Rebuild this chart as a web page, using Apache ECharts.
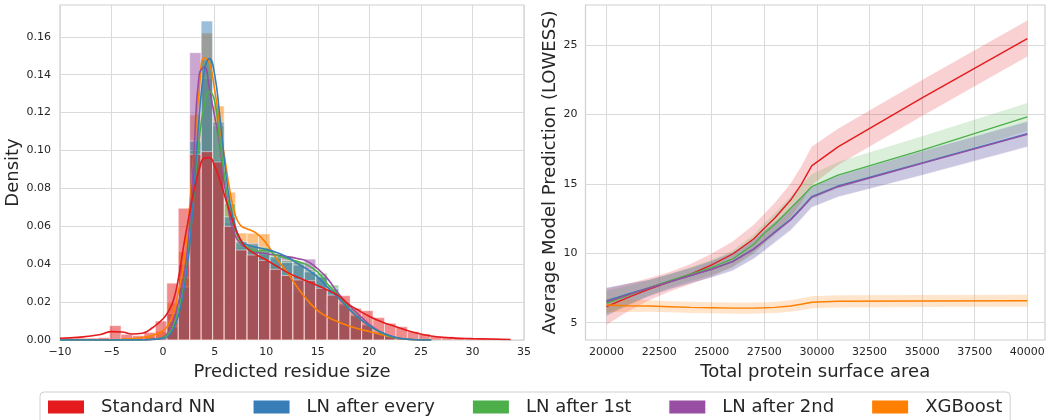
<!DOCTYPE html>
<html>
<head>
<meta charset="utf-8">
<script src="https://cdn.jsdelivr.net/npm/echarts@6/dist/echarts.min.js"></script>
<style>
  html, body { margin: 0; padding: 0; background: #ffffff; }
  #chart { width: 1047px; height: 420px; }
</style>
</head>
<body>
<div id="chart"></div>
<script>
const seriesNames = ['Standard NN', 'LN after every', 'LN after 1st', 'LN after 2nd', 'XGBoost']
const seriesColors = ['#e41a1c', '#377eb8', '#4daf4a', '#984ea3', '#ff7f00']

// left panel: histogram bins (shared by every model)
const binEdges = [-10.75, -9.64, -8.53, -7.42, -6.31, -5.20, -4.08, -2.97, -1.86, -0.75,
  0.36, 1.47, 2.58, 3.69, 4.80, 5.92, 7.03, 8.14, 9.25, 10.36,
  11.47, 12.58, 13.69, 14.80, 15.91, 17.03, 18.14, 19.25, 20.36, 21.47,
  22.58, 23.69, 24.80, 25.91, 27.02, 28.14, 29.25, 30.36, 31.47, 32.58, 33.69]

const histRed = [0.0008, 0.0008, 0.0010, 0.0010, 0.0013, 0.0076, 0.0030, 0.0023, 0.0040, 0.0100,
  0.0300, 0.0695, 0.0980, 0.0994, 0.0940, 0.0600, 0.0475, 0.0449, 0.0420, 0.0373,
  0.0340, 0.0317, 0.0313, 0.0273, 0.0237, 0.0234, 0.0167, 0.0155, 0.0118, 0.0088,
  0.0070, 0.0044, 0.0032, 0.0021, 0.0018, 0.0012, 0.0010, 0.0008, 0.0006, 0.0005]
const histBlue = [0, 0, 0, 0, 0, 0, 0, 0, 0, 0.0008,
  0.0070, 0.0280, 0.1050, 0.1683, 0.1150, 0.0650, 0.0520, 0.0510, 0.0470, 0.0440,
  0.0410, 0.0396, 0.0360, 0.0334, 0.0270, 0.0190, 0.0130, 0.0080, 0.0040, 0.0020,
  0.0010, 0.0005, 0, 0, 0, 0, 0, 0, 0, 0]
const histGreen = [0, 0, 0, 0, 0, 0, 0, 0, 0, 0.0010,
  0.0100, 0.0330, 0.1000, 0.1480, 0.1130, 0.0720, 0.0510, 0.0500, 0.0490, 0.0457,
  0.0420, 0.0410, 0.0370, 0.0352, 0.0290, 0.0194, 0.0130, 0.0080, 0.0040, 0.0020,
  0.0010, 0.0005, 0, 0, 0, 0, 0, 0, 0, 0]
const histPurple = [0, 0, 0, 0, 0, 0, 0, 0, 0, 0.0010,
  0.0140, 0.0400, 0.1516, 0.1380, 0.0950, 0.0620, 0.0490, 0.0470, 0.0450, 0.0430,
  0.0440, 0.0413, 0.0427, 0.0330, 0.0260, 0.0180, 0.0120, 0.0080, 0.0040, 0.0020,
  0.0010, 0.0005, 0, 0, 0, 0, 0, 0, 0, 0]
const histOrange = [0, 0, 0, 0, 0, 0.0005, 0.0010, 0.0010, 0.0020, 0.0045,
  0.0195, 0.0466, 0.1187, 0.1620, 0.1235, 0.0780, 0.0565, 0.0563, 0.0560, 0.0400,
  0.0340, 0.0250, 0.0180, 0.0130, 0.0110, 0.0080, 0.0060, 0.0050, 0.0030, 0.0020,
  0.0010, 0.0005, 0, 0, 0, 0, 0, 0, 0, 0]

// left panel: kde curves
const kdeX = [-10, -8, -6, -5, -4, -3, -2, -1, 0, 0.5, 1, 1.5, 2, 2.5, 3, 3.5, 4, 4.5, 5, 5.5,
  6, 6.5, 7, 7.5, 8, 9, 10, 11, 12, 13, 14, 15, 16, 17, 18, 19, 20, 21, 22, 23, 24, 26, 28, 30, 33.7]
const kdeRed = [0.0009, 0.0015, 0.0030, 0.0044, 0.0042, 0.0032, 0.0036, 0.0066,
  0.0112, 0.0150, 0.0210, 0.0330, 0.0500, 0.0650, 0.0790, 0.0900, 0.0960, 0.0962, 0.0918, 0.0845,
  0.0756, 0.0670, 0.0590, 0.0530, 0.0490,
  0.0452, 0.0422, 0.0390, 0.0358, 0.0332, 0.0310, 0.0287, 0.0262, 0.0234, 0.0188, 0.0155, 0.0125,
  0.0100, 0.0080, 0.0062, 0.0045, 0.0021, 0.0011, 0.0007, 0.0003]
const kdeBlue = [0, 0, 0, 0, 0, 0, 0.0001, 0.0003,
  0.0008, 0.0020, 0.0060, 0.0130, 0.0260, 0.0460, 0.0800, 0.1180, 0.1420, 0.1485, 0.1400, 0.1180,
  0.0920, 0.0720, 0.0600, 0.0530, 0.0505,
  0.0490, 0.0478, 0.0462, 0.0438, 0.0405, 0.0372, 0.0332, 0.0275, 0.0222, 0.0165, 0.0115, 0.0075,
  0.0045, 0.0022, 0.0009, 0.0003, 0, null, null, null]
const kdeGreen = [0, 0, 0, 0, 0, 0, 0, 0.0004,
  0.0012, 0.0030, 0.0075, 0.0160, 0.0280, 0.0480, 0.0780, 0.1060, 0.1240, 0.1310, 0.1260, 0.1050,
  0.0850, 0.0680, 0.0580, 0.0520, 0.0495,
  0.0470, 0.0472, 0.0447, 0.0430, 0.0415, 0.0395, 0.0358, 0.0292, 0.0235, 0.0170, 0.0115, 0.0075,
  0.0042, 0.0020, 0.0008, 0.0003, 0, null, null, null]
const kdePurple = [0, 0, 0, 0, 0, 0, 0, 0.0005,
  0.0015, 0.0040, 0.0100, 0.0200, 0.0320, 0.0560, 0.1000, 0.1400, 0.1440, 0.1320, 0.1180, 0.1030,
  0.0800, 0.0640, 0.0550, 0.0510, 0.0490,
  0.0465, 0.0455, 0.0448, 0.0440, 0.0430, 0.0415, 0.0375, 0.0320, 0.0245, 0.0185, 0.0132, 0.0083,
  0.0045, 0.0022, 0.0008, 0.0003, 0, null, null, null]
const kdeOrange = [0, 0, 0, 0, 0.0003, 0.0008, 0.0013, 0.0025,
  0.0050, 0.0080, 0.0140, 0.0260, 0.0400, 0.0660, 0.1000, 0.1320, 0.1490, 0.1460, 0.1320, 0.1130,
  0.0950, 0.0780, 0.0660, 0.0605, 0.0590,
  0.0565, 0.0510, 0.0430, 0.0360, 0.0280, 0.0210, 0.0155, 0.0120, 0.0095, 0.0075, 0.0058, 0.0045,
  0.0030, 0.0018, 0.0008, 0.0003, 0, null, null, null]

const densityTicks = [0, 0.02, 0.04, 0.06, 0.08, 0.10, 0.12, 0.14, 0.16]

// right panel: lowess fits and their confidence half-widths
const lowessX = [20000, 21000, 22000, 23000, 24000, 25000, 26000, 27000, 27500, 28000,
  28750, 29250, 29750, 31000, 35000, 40000]
const lowessRed = [6.15, 6.80, 7.40, 7.95, 8.50, 9.16, 9.95, 11.05, 11.80, 12.55,
  13.84, 14.95, 16.30, 17.67, 21.20, 25.48]
const lowessBlue = [6.58, 7.05, 7.50, 7.95, 8.40, 8.86, 9.42, 10.32, 10.92, 11.55,
  12.45, 13.25, 14.08, 14.85, 16.52, 18.62]
const lowessGreen = [6.40, 6.95, 7.50, 8.02, 8.50, 8.99, 9.60, 10.65, 11.44, 12.10,
  13.24, 14.00, 14.80, 15.64, 17.44, 19.84]
const lowessPurple = [6.50, 7.00, 7.48, 7.95, 8.40, 8.85, 9.40, 10.30, 10.90, 11.50,
  12.40, 13.20, 14.03, 14.80, 16.48, 18.57]
const lowessOrange = [6.27, 6.22, 6.20, 6.15, 6.10, 6.08, 6.05, 6.05, 6.07, 6.10,
  6.20, 6.33, 6.47, 6.54, 6.56, 6.58]

const ciRed = [1.30, 1.00, 0.80, 0.70, 0.72, 0.82, 0.90, 1.00, 1.05, 1.10, 1.20, 1.30, 1.38, 1.30, 1.30, 1.30]
const ciBlue = [0.95, 0.75, 0.58, 0.52, 0.52, 0.58, 0.63, 0.68, 0.70, 0.72, 0.74, 0.74, 0.72, 0.75, 0.85, 0.90]
const ciGreen = [0.90, 0.70, 0.55, 0.50, 0.50, 0.55, 0.60, 0.70, 0.75, 0.80, 0.85, 0.90, 0.90, 0.95, 1.00, 1.00]
const ciPurple = [1.00, 0.80, 0.60, 0.55, 0.55, 0.60, 0.65, 0.70, 0.72, 0.74, 0.75, 0.75, 0.72, 0.75, 0.85, 0.90]
const ciOrange = [0.50, 0.45, 0.42, 0.40, 0.40, 0.40, 0.40, 0.40, 0.40, 0.40, 0.42, 0.43, 0.44, 0.44, 0.43, 0.43]

const surfaceTicks = [20000, 22500, 25000, 27500, 30000, 32500, 35000, 37500, 40000]
const predictionTicks = [5, 10, 15, 20, 25]

const FONT = 'DejaVu Sans'
const INK = '#262626'
const GRID_LINE = '#dadada'
const LEFT_X_MIN = -10

const chart = echarts.init(document.getElementById('chart'), null, { renderer: 'canvas' })

function histSeries(idx, heights) {
  const color = seriesColors[idx]
  return {
    type: 'custom',
    name: seriesNames[idx],
    xAxisIndex: 0,
    yAxisIndex: 0,
    silent: true,
    itemStyle: { color },
    data: heights.map((h, k) => [binEdges[k], binEdges[k + 1], h]),
    renderItem(params, api) {
      const h = api.value(2)
      if (!h) return null
      const x0 = Math.max(api.value(0), LEFT_X_MIN)
      const p0 = api.coord([x0, h])
      const p1 = api.coord([api.value(1), 0])
      return {
        type: 'rect',
        shape: { x: p0[0], y: p0[1], width: p1[0] - p0[0], height: p1[1] - p0[1] },
        style: { fill: color, stroke: '#ffffff', lineWidth: 1, opacity: 0.5 }
      }
    }
  }
}

function kdeSeries(idx, values) {
  const data = []
  kdeX.forEach((x, i) => {
    if (values[i] !== null) data.push([x, values[i]])
  })
  return {
    type: 'line',
    name: seriesNames[idx],
    xAxisIndex: 0,
    yAxisIndex: 0,
    silent: true,
    symbol: 'none',
    smooth: 0.5,
    data,
    lineStyle: { color: seriesColors[idx], width: 1.6 },
    itemStyle: { color: seriesColors[idx] }
  }
}

function lowessLine(idx, values) {
  return {
    type: 'line',
    name: seriesNames[idx],
    xAxisIndex: 1,
    yAxisIndex: 1,
    silent: true,
    symbol: 'none',
    smooth: false,
    data: lowessX.map((x, i) => [x, values[i]]),
    lineStyle: { color: seriesColors[idx], width: 1.4 },
    itemStyle: { color: seriesColors[idx] }
  }
}

function lowessBand(idx, values, ci) {
  const color = seriesColors[idx]
  return {
    type: 'custom',
    name: seriesNames[idx],
    xAxisIndex: 1,
    yAxisIndex: 1,
    silent: true,
    itemStyle: { color },
    data: [0],
    renderItem(params, api) {
      const upper = lowessX.map((x, i) => api.coord([x, values[i] + ci[i]]))
      const lower = lowessX.map((x, i) => api.coord([x, values[i] - ci[i]])).reverse()
      return {
        type: 'polygon',
        shape: { points: upper.concat(lower) },
        style: { fill: color, opacity: 0.2 }
      }
    }
  }
}

const tickLabel = { fontFamily: FONT, fontSize: 11, color: INK }
const axisName = { fontFamily: FONT, fontSize: 18, color: INK }

const option = {
  animation: false,
  backgroundColor: '#ffffff',
  textStyle: { fontFamily: FONT },
  grid: [
    { left: 60, top: 5, width: 464, height: 335, show: true, borderColor: '#cfcfcf', borderWidth: 1.2,
      containLabel: false, outerBoundsMode: 'none' },
    { left: 585.5, top: 5, width: 459.5, height: 335, show: true, borderColor: '#cfcfcf', borderWidth: 1.2,
      containLabel: false, outerBoundsMode: 'none' }
  ],
  legend: {
    data: seriesNames.map((n, i) => ({ name: n, itemStyle: { color: seriesColors[i], opacity: 1 } })),
    left: 40,
    top: 392,
    icon: 'rect',
    itemWidth: 36,
    itemHeight: 13,
    itemGap: 38,
    padding: [6, 8, 24, 8],
    borderColor: '#d0d0d0',
    borderWidth: 1,
    borderRadius: 4,
    backgroundColor: '#ffffff',
    selectedMode: false,
    textStyle: { fontFamily: FONT, fontSize: 18, color: INK, padding: [0, 0, 0, 12] }
  },
  xAxis: [
    {
      type: 'value', gridIndex: 0, min: -10, max: 35, interval: 5,
      name: 'Predicted residue size', nameLocation: 'middle', nameGap: 19, nameTextStyle: axisName,
      axisLine: { show: false }, axisTick: { show: false },
      splitLine: { show: true, lineStyle: { color: GRID_LINE, width: 1 } },
      axisLabel: Object.assign({ margin: 7, formatter: v => (v < 0 ? '\u2212' + Math.abs(v) : String(v)) }, tickLabel)
    },
    {
      type: 'value', gridIndex: 1, min: 19000, max: 40840,
      name: 'Total protein surface area', nameLocation: 'middle', nameGap: 19, nameTextStyle: axisName,
      axisLine: { show: false }, axisTick: { show: false, customValues: surfaceTicks },
      splitLine: { show: true, lineStyle: { color: GRID_LINE, width: 1 } },
      axisLabel: Object.assign({ margin: 7, customValues: surfaceTicks, formatter: v => String(v) }, tickLabel)
    }
  ],
  yAxis: [
    {
      type: 'value', gridIndex: 0, min: 0, max: 0.1768,
      name: 'Density', nameLocation: 'middle', nameGap: 34, nameTextStyle: axisName,
      axisLine: { show: false }, axisTick: { show: false, customValues: densityTicks },
      splitLine: { show: true, lineStyle: { color: GRID_LINE, width: 1 } },
      axisLabel: Object.assign({ margin: 9, customValues: densityTicks, formatter: v => v.toFixed(2) }, tickLabel)
    },
    {
      type: 'value', gridIndex: 1, min: 3.75, max: 27.9,
      name: 'Average Model Prediction (LOWESS)', nameLocation: 'middle', nameGap: 25, nameTextStyle: axisName,
      axisLine: { show: false }, axisTick: { show: false, customValues: predictionTicks },
      splitLine: { show: true, lineStyle: { color: GRID_LINE, width: 1 } },
      axisLabel: Object.assign({ margin: 8, customValues: predictionTicks, formatter: v => String(v) }, tickLabel)
    }
  ],
  series: [
    // histogram layers, last hue drawn first so Standard NN ends on top
    histSeries(4, histOrange),
    histSeries(3, histPurple),
    histSeries(2, histGreen),
    histSeries(1, histBlue),
    histSeries(0, histRed),
    kdeSeries(4, kdeOrange),
    kdeSeries(3, kdePurple),
    kdeSeries(2, kdeGreen),
    kdeSeries(1, kdeBlue),
    kdeSeries(0, kdeRed),
    // regplot order: line then its band
    lowessLine(0, lowessRed), lowessBand(0, lowessRed, ciRed),
    lowessLine(1, lowessBlue), lowessBand(1, lowessBlue, ciBlue),
    lowessLine(2, lowessGreen), lowessBand(2, lowessGreen, ciGreen),
    lowessLine(3, lowessPurple), lowessBand(3, lowessPurple, ciPurple),
    lowessLine(4, lowessOrange), lowessBand(4, lowessOrange, ciOrange)
  ]
}

chart.setOption(option)
</script>
</body>
</html>
